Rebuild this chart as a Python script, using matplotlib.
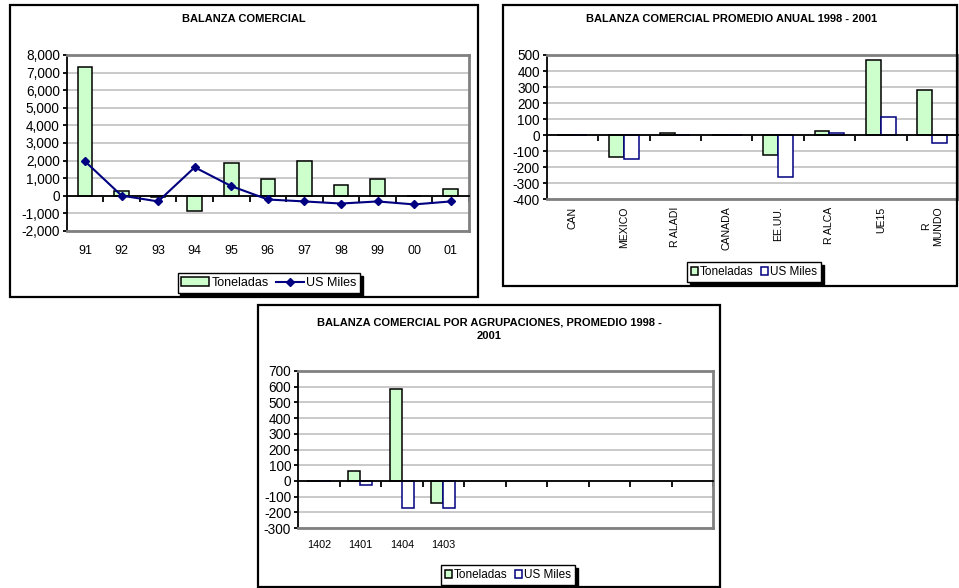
import numpy as np
import matplotlib
matplotlib.use("Agg")
import matplotlib.pyplot as plt
from matplotlib.patches import Rectangle, Patch
from matplotlib.lines import Line2D
from matplotlib.ticker import FuncFormatter, MultipleLocator

plt.rcParams['font.family'] = ['Liberation Sans', 'DejaVu Sans']

# --- data ---------------------------------------------------------------
years = ['91', '92', '93', '94', '95', '96', '97', '98', '99', '00', '01']
year_ton = [7300, 260, -50, -870, 1840, 940, 1970, 590, 940, -30, 360]
year_usd = [1960, 10, -320, 1620, 550, -210, -320, -440, -320, -490, -320]

regions = ['CAN', 'MEXICO', 'R ALADI', 'CANADA', 'EE.UU.', 'R ALCA', 'UE15', 'R\nMUNDO']
region_ton = [2, -136, 12, 0, -123, 28, 466, 280]
region_usd = [1, -150, 2, 0, -263, 14, 115, -50]

groups = ['1402', '1401', '1404', '1403']
group_ton = [0, 61, 583, -142]
group_usd = [0, -28, -170, -170]
group_slots = 10

GREEN = '#CCFFCC'
NAVY = '#000080'
GRID = '#C0C0C0'
BORDER = '#808080'

W, H = 959, 588
fig = plt.figure(figsize=(W / 100, H / 100), dpi=100)


def px_rect(x0, y0, x1, y1):
    # pixel box (top-left origin) -> figure fraction
    return [x0 / W, 1 - y1 / H, (x1 - x0) / W, (y1 - y0) / H]


def frame(x0, y0, x1, y1):
    fig.patches.append(Rectangle((x0 / W, 1 - y1 / H), (x1 - x0) / W, (y1 - y0) / H,
                                 transform=fig.transFigure, fill=False,
                                 edgecolor='black', linewidth=1.6))


def style_axes(ax, n, ylim, ystep, fmt, ysize):
    ax.set_xlim(-0.5, n - 0.5)
    ax.set_ylim(*ylim)
    ax.yaxis.set_major_locator(MultipleLocator(ystep))
    ax.yaxis.set_major_formatter(FuncFormatter(fmt))
    ax.set_axisbelow(True)
    ax.grid(axis='y', color=GRID, linewidth=1.2)
    ax.spines['bottom'].set_position(('data', 0))
    ax.spines['bottom'].set_color('black')
    ax.spines['bottom'].set_linewidth(1.3)
    ax.spines['left'].set_linewidth(1.3)
    for s in ('top', 'right'):
        ax.spines[s].set_color(BORDER)
        ax.spines[s].set_linewidth(2)
    ax.plot([0, 1], [0, 0], transform=ax.transAxes, color=BORDER, lw=2,
            clip_on=False, zorder=3)
    ax.set_xticks(np.arange(0.5, n, 1))
    ax.tick_params(axis='x', direction='out', length=4, width=1.3, labelbottom=False)
    ax.tick_params(axis='y', direction='out', length=3, width=1.3, pad=2,
                   labelsize=ysize)


def legend(handles, labels, cx, cy, size, hl):
    lg = fig.legend(handles, labels, loc='center',
                    bbox_to_anchor=(cx / W, 1 - cy / H), fontsize=size,
                    frameon=True, fancybox=False, ncol=2, handlelength=hl,
                    handletextpad=0.2, columnspacing=0.6, borderpad=0.3,
                    shadow={'facecolor': 'black', 'edgecolor': 'black', 'alpha': 1})
    lg.get_frame().set_edgecolor('black')
    lg.get_frame().set_linewidth(1.0)
    return lg


# --- panel 1: yearly balance ---------------------------------------------
frame(10, 5, 478, 297)
fig.text(244 / W, 1 - 19 / H, 'BALANZA COMERCIAL', ha='center', va='center',
         fontsize=8, fontweight='bold')
ax1 = fig.add_axes(px_rect(66.7, 55, 469, 231))
style_axes(ax1, len(years), (-2000, 8000), 1000, lambda v, p: f'{v:,.0f}', 9.8)
x1 = np.arange(len(years))
ax1.bar(x1, year_ton, width=0.4, color=GREEN, edgecolor='black', linewidth=1.1)
ax1.plot(x1, year_usd, color=NAVY, lw=1.5, marker='D', markersize=4.5, zorder=4)
for xi, lab in zip(x1, years):
    ax1.text(xi, -0.115, lab, transform=ax1.get_xaxis_transform(),
             ha='center', va='center', fontsize=9)
legend([Patch(facecolor=GREEN, edgecolor='black', linewidth=1.1),
        Line2D([], [], color=NAVY, lw=1.5, marker='D', markersize=4.5)],
       ['Toneladas', 'US Miles'], 269, 283, 9, 2.2)

# --- panel 2: regional average ---------------------------------------------
frame(503, 5, 957, 286)
fig.text(732 / W, 1 - 19 / H, 'BALANZA COMERCIAL PROMEDIO ANUAL 1998 - 2001',
         ha='center', va='center', fontsize=8, fontweight='bold')
ax2 = fig.add_axes(px_rect(546.7, 55, 958, 199.3))
style_axes(ax2, len(regions), (-400, 500), 100, lambda v, p: f'{v:.0f}', 9.8)
x2 = np.arange(len(regions))
bw = 0.29
ax2.bar(x2 - bw / 2, region_ton, width=bw, color=GREEN, edgecolor='black', linewidth=1.1)
ax2.bar(x2 + bw / 2, region_usd, width=bw, color='white', edgecolor=NAVY, linewidth=1.1)
for xi, lab in zip(x2, regions):
    ax2.text(xi, -0.05, lab, transform=ax2.get_xaxis_transform(), rotation=90,
             ha='center', va='top', multialignment='center', fontsize=7.6)
legend([Patch(facecolor=GREEN, edgecolor='black', linewidth=1.1),
        Patch(facecolor='white', edgecolor=NAVY, linewidth=1.1)],
       ['Toneladas', 'US Miles'], 754, 272, 8.5, 0.6)

# --- panel 3: by product group ---------------------------------------------
frame(258, 305, 720, 587)
fig.text(489 / W, 1 - 329.5 / H, 'BALANZA COMERCIAL POR AGRUPACIONES, PROMEDIO 1998 -\n2001',
         ha='center', va='center', fontsize=8, fontweight='bold', linespacing=1.4)
ax3 = fig.add_axes(px_rect(298, 371, 713, 528))
style_axes(ax3, group_slots, (-300, 700), 100, lambda v, p: f'{v:.0f}', 9.8)
x3 = np.arange(len(groups))
ax3.bar(x3 - bw / 2, group_ton, width=bw, color=GREEN, edgecolor='black', linewidth=1.1)
ax3.bar(x3 + bw / 2, group_usd, width=bw, color='white', edgecolor=NAVY, linewidth=1.1)
for xi, lab in zip(x3, groups):
    ax3.text(xi, -0.11, lab, transform=ax3.get_xaxis_transform(),
             ha='center', va='center', fontsize=7.8)
legend([Patch(facecolor=GREEN, edgecolor='black', linewidth=1.1),
        Patch(facecolor='white', edgecolor=NAVY, linewidth=1.1)],
       ['Toneladas', 'US Miles'], 508, 575, 8.5, 0.6)

fig.savefig('out.png', dpi=100)
